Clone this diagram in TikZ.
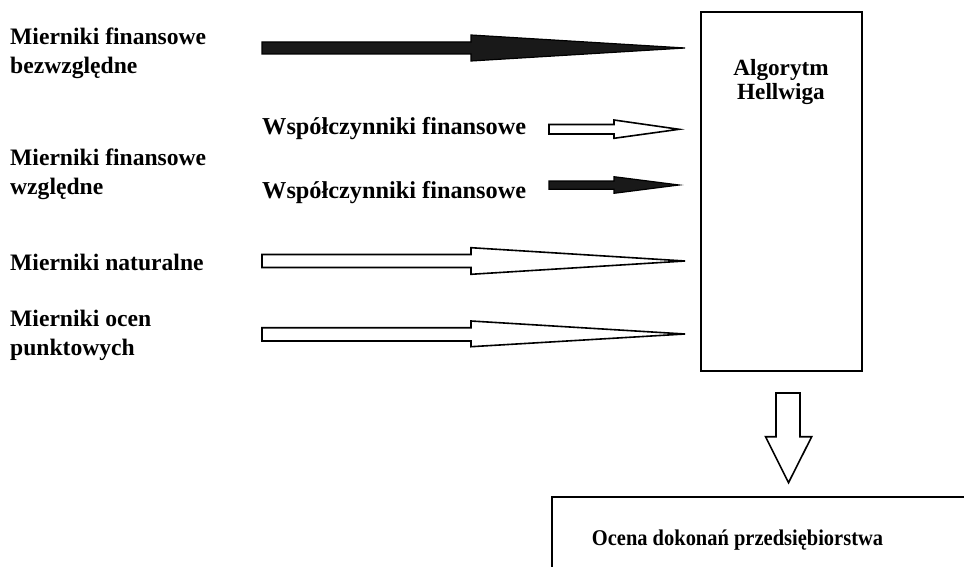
\documentclass[tikz,border=0pt]{standalone}
\usepackage{fontspec}
\usepackage{graphicx}
\setmainfont{Liberation Serif}
\begin{document}
\begin{tikzpicture}[x=1pt,y=-1pt,
  lbl/.style={font=\fontsize{23.6}{29}\selectfont\bfseries, inner sep=0pt, align=left, anchor=base west},
  blk/.style={draw=black, fill=black!90, line width=1.2pt, line join=miter},
  hollow/.style={draw=black, fill=white, line width=1.6pt, line join=miter},
  frame/.style={draw=black, line width=1.8pt}]
\useasboundingbox (0,0) rectangle (964,567);
\clip (0,0) rectangle (964,567);

% input labels (anchored at the baseline of their last line)
\node[lbl] (abs) at (10,74) {Mierniki finansowe\\bezwzględne};
\node[lbl] (rel) at (10,194) {Mierniki finansowe\\względne};
\node[lbl] (nat) at (10,270) {Mierniki naturalne};
\node[lbl] (pkt) at (10,355) {Mierniki ocen\\punktowych};
\node[lbl, font=\fontsize{24.3}{29}\selectfont\bfseries] (wsp1) at (262,135) {Współczynniki finansowe};
\node[lbl, font=\fontsize{24.3}{29}\selectfont\bfseries] (wsp2) at (262,198) {Współczynniki finansowe};

% Hellwig algorithm box
\draw[frame] (701,12) rectangle (862,371);
\node[font=\fontsize{23.2}{24}\selectfont\bfseries, align=center, inner sep=0pt, anchor=base] (alg) at (781,100) {Algorytm\\Hellwiga};

% block arrows into the algorithm
\draw[blk] (262,42) -- (471,42) -- (471,35) -- (685,48) -- (471,61) -- (471,54) -- (262,54) -- cycle;
\draw[hollow] (549,124.5) -- (614,124.5) -- (614,120) -- (679,129.3) -- (614,138.3) -- (614,134) -- (549,134) -- cycle;
\draw[blk] (549,181) -- (614,181) -- (614,176.7) -- (679,185) -- (614,193.3) -- (614,189.3) -- (549,189.3) -- cycle;
\draw[hollow] (262,254.5) -- (471,254.5) -- (471,247.7) -- (685,261) -- (471,274.3) -- (471,267.5) -- (262,267.5) -- cycle;
\draw[hollow] (262,327.7) -- (471,327.7) -- (471,321) -- (685,334) -- (471,346.7) -- (471,341) -- (262,341) -- cycle;

% arrow down to the result
\draw[hollow] (776,393) -- (800,393) -- (800,436.7) -- (811.7,436.7) -- (788.5,482.7) -- (765.5,436.7) -- (776,436.7) -- cycle;

% result box
\draw[frame] (552,497) rectangle (990,600);
\node[font=\fontsize{22.5}{24}\selectfont\bfseries, inner sep=0pt, anchor=base] (ocena) at (737.5,545) {\scalebox{0.91}[1]{Ocena dokonań przedsiębiorstwa}};
\end{tikzpicture}
\end{document}
